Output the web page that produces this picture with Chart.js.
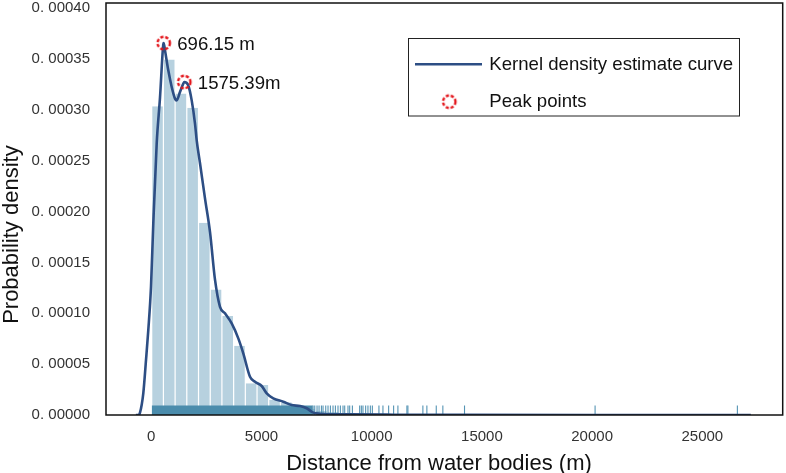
<!DOCTYPE html>
<html><head><meta charset="utf-8">
<script src="https://cdn.jsdelivr.net/npm/chart.js@4.4.1/dist/chart.umd.min.js"></script>
<style>html,body{margin:0;padding:0;background:#fff;} #wrap{width:786px;height:473px;}</style>
</head><body><div id="wrap"><canvas id="c" width="786" height="473"></canvas></div>
<script>
// ---------- data ----------
const binCenters = [284, 815, 1346, 1877, 2408, 2939, 3470, 4001, 4532, 5063, 5594, 6125, 6656, 7187, 7718, 8249];
const binDensity = [0.0003035, 0.0003494, 0.000316, 0.000302, 0.000189, 0.0001234, 0.0000972, 0.000068, 0.0000311, 0.0000295, 0.000015, 0.0000125, 0.000009, 0.000006, 0.000004, 0.000003];

const kdeX = [-700, -590, -513, -363, -240, -136, -14, 91, 245, 395, 544, 563, 622, 771, 926, 1075, 1152, 1302, 1452, 1497, 1679, 1833, 1983, 2060, 2210, 2436, 2663, 2890, 3117, 3344, 3648, 3947, 4174, 4478, 4705, 5009, 5236, 5535, 5989, 6370, 6747, 7051, 7350, 7654, 9000, 11000, 14000, 20000, 27200];
const kdeY = [0, 0, 0.0000023, 0.0000213, 0.000054, 0.0000835, 0.0001257, 0.0001885, 0.000267, 0.000312, 0.0003643, 0.0003656, 0.0003584, 0.0003388, 0.0003224, 0.000311, 0.0003093, 0.0003175, 0.0003258, 0.0003273, 0.000324, 0.0003093, 0.0002865, 0.00027, 0.0002475, 0.000213, 0.00018, 0.000133, 0.0001064, 0.0000999, 0.00009, 0.0000753, 0.0000606, 0.0000376, 0.0000327, 0.0000285, 0.0000213, 0.0000164, 0.0000131, 0.0000098, 0.0000088, 0.0000066, 0.0000023, 0.0000013, 0.0000006, 0.0000003, 0.0000001, 0.00000005, 0];

const peakX = [563, 1497];
const peakY = [0.0003656, 0.0003273];
const peakLabels = ['696.15 m', '1575.39m'];

const rugBand = [18, 7330];
const rugMarks = [7339, 7416, 7520, 7611, 7719, 7792, 7914, 8018, 8127, 8245, 8353, 8471, 8580, 8698, 8775, 8924, 9001, 9124, 9454, 9531, 9604, 9725, 9830, 9939, 10030, 10328, 10510, 10768, 10994, 11189, 11597, 11642, 12322, 12503, 12929, 13228, 14211, 20135, 26591];

const xTickValues = [0, 5000, 10000, 15000, 20000, 25000];
const xTickLabels = ['0', '5000', '10000', '15000', '20000', '25000'];
const yTickValues = [0, 0.00005, 0.0001, 0.00015, 0.0002, 0.00025, 0.0003, 0.00035, 0.0004];
const yTickLabels = ['0. 00000', '0. 00005', '0. 00010', '0. 00015', '0. 00020', '0. 00025', '0. 00030', '0. 00035', '0. 00040'];

const seriesNames = ['Kernel density estimate curve', 'Peak points'];
const xTitle = 'Distance from water bodies (m)';
const yTitle = 'Probability density';

// ---------- styling ----------
const FONT = '"Liberation Sans", Arial, Helvetica, sans-serif';
const KDE_COLOR = '#2d4e84';
const RUG_COLOR = 'rgb(75,140,172)';
const RUG_H = 0.0000094;
Chart.defaults.font.family = FONT;

function makeDashedCircle() {
  const c = document.createElement('canvas');
  c.width = 18; c.height = 18;
  const g = c.getContext('2d');
  g.strokeStyle = '#e3161c';
  g.lineWidth = 2.4;
  g.setLineDash([3.1, 1.9]);
  g.beginPath(); g.arc(9, 9, 6.2, 0, Math.PI * 2); g.stroke();
  return c;
}
const peakMarker = makeDashedCircle();

const decorPlugin = {
  id: 'decor',
  afterDatasetsDraw(chart) {
    const { ctx, chartArea: a } = chart;
    ctx.save();
    const idx = chart.data.datasets.findIndex(d => d.label === seriesNames[1]);
    const meta = chart.getDatasetMeta(idx);
    ctx.font = '18.6px ' + FONT;
    ctx.fillStyle = '#111';
    ctx.textBaseline = 'middle';
    ctx.textAlign = 'left';
    meta.data.forEach((pt, i) => ctx.fillText(peakLabels[i], pt.x + 13.5, pt.y + 1.8));
    ctx.strokeStyle = '#111';
    ctx.lineWidth = 1.5;
    ctx.strokeRect(a.left, a.top, a.right - a.left, a.bottom - a.top);
    ctx.restore();
  },
  afterDraw(chart) {
    const { ctx } = chart;
    ctx.save();
    ctx.strokeStyle = '#222';
    ctx.lineWidth = 1;
    ctx.strokeRect(408.5, 38.5, 331, 77.5);
    ctx.strokeStyle = KDE_COLOR;
    ctx.lineWidth = 2.6;
    ctx.beginPath(); ctx.moveTo(415, 64.3); ctx.lineTo(482, 64.3); ctx.stroke();
    ctx.drawImage(peakMarker, 449.3 - 9, 101.7 - 9);
    ctx.font = '18.6px ' + FONT;
    ctx.fillStyle = '#111';
    ctx.textBaseline = 'middle';
    ctx.textAlign = 'left';
    ctx.fillText(seriesNames[0], 489.3, 64.8);
    ctx.fillText(seriesNames[1], 489.3, 102.2);
    ctx.font = '22px ' + FONT;
    ctx.textAlign = 'center';
    ctx.textBaseline = 'alphabetic';
    ctx.fillText(xTitle, 439, 469.5);
    ctx.translate(18.3, 234.6);
    ctx.rotate(-Math.PI / 2);
    ctx.fillText(yTitle, 0, 0);
    ctx.restore();
  }
};

new Chart(document.getElementById('c'), {
  type: 'bar',
  data: {
    datasets: [
      {
        type: 'scatter', label: seriesNames[1], order: 0,
        data: peakX.map((x, i) => ({ x, y: peakY[i] })),
        pointStyle: peakMarker, pointRadius: 7, showLine: false
      },
      {
        type: 'line', label: seriesNames[0], order: 1,
        data: kdeX.map((x, i) => ({ x, y: kdeY[i] })),
        borderColor: KDE_COLOR, borderWidth: 2.6, pointRadius: 0, fill: false,
        cubicInterpolationMode: 'monotone'
      },
      {
        type: 'scatter', label: 'rug', order: 2,
        data: rugMarks.map(x => ({ x, y: RUG_H / 2 })),
        pointStyle: 'line', rotation: 90, pointRadius: 4.8,
        borderColor: 'rgb(85,148,180)', borderWidth: 1.1, backgroundColor: 'rgb(85,148,180)'
      },
      {
        type: 'line', label: 'rugband', order: 3,
        data: rugBand.map(x => ({ x, y: RUG_H })),
        borderWidth: 0, pointRadius: 0, fill: 'origin', backgroundColor: RUG_COLOR, tension: 0
      },
      {
        type: 'bar', label: 'histogram', order: 4,
        data: binCenters.map((x, i) => ({ x, y: binDensity[i] })),
        backgroundColor: 'rgba(75,140,175,0.4)',
        borderColor: 'rgba(255,255,255,0.8)',
        borderWidth: { left: 0.6, right: 0.6, top: 0, bottom: 0 },
        borderSkipped: false, inflateAmount: 0,
        barPercentage: 1, categoryPercentage: 1
      }
    ]
  },
  options: {
    responsive: false,
    animation: false,
    devicePixelRatio: 1,
    events: [],
    layout: { autoPadding: false, padding: { left: 0, right: 3.3, top: 3, bottom: 0 } },
    plugins: { legend: { display: false }, tooltip: { enabled: false } },
    scales: {
      x: {
        type: 'linear', position: 'bottom', min: -2055, max: 28647, offset: false,
        grid: { display: false, drawTicks: false, offset: false },
        border: { display: false },
        afterBuildTicks: s => { s.ticks = xTickValues.map(v => ({ value: v })); },
        afterFit: s => { s.height = 58; s.paddingLeft = 0; s.paddingRight = 0; },
        ticks: {
          autoSkip: false, maxRotation: 0, padding: 13,
          font: { size: 15 }, color: '#333',
          callback: (v, i) => xTickLabels[i]
        }
      },
      y: {
        type: 'linear', position: 'left', min: 0, max: 0.000405,
        grid: { display: false, drawTicks: false },
        border: { display: false },
        afterBuildTicks: s => { s.ticks = yTickValues.map(v => ({ value: v })); },
        afterFit: s => { s.width = 106; s.paddingTop = 0; s.paddingBottom = 0; },
        ticks: {
          autoSkip: false, padding: 16,
          font: { size: 15 }, color: '#333',
          callback: (v, i) => yTickLabels[i]
        }
      }
    }
  },
  plugins: [decorPlugin]
});
</script>
</body></html>
